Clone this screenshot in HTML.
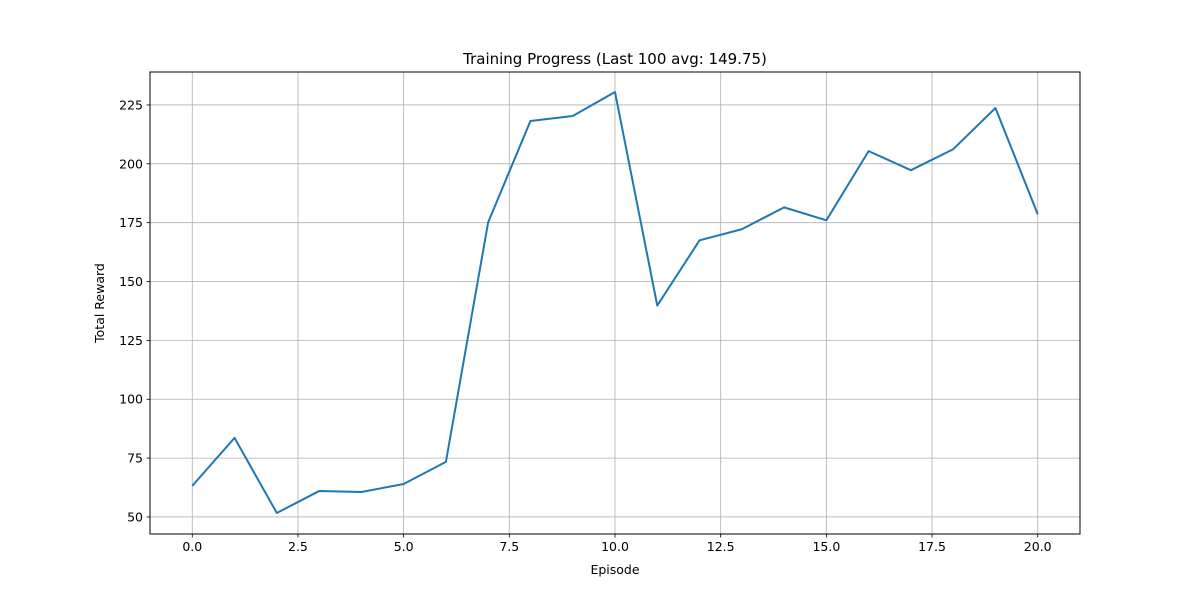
<!DOCTYPE html>
<html><head><meta charset="utf-8"><style>
body{margin:0;background:#fff;}
svg text{font-family:"DejaVu Sans","Liberation Sans",sans-serif;}
</style></head><body>
<svg id="chart" width="1200" height="600" xmlns="http://www.w3.org/2000/svg"></svg>
<script>
const episodes=[0,1,2,3,4,5,6,7,8,9,10,11,12,13,14,15,16,17,18,19,20];
const rewards=[63.2,83.6,51.7,61,60.6,64,73.4,175.2,218.2,220.3,230.5,139.8,167.5,172.2,181.5,176,205.4,197.3,206.2,223.7,178.6];
const xTicks=[0,2.5,5,7.5,10,12.5,15,17.5,20];
const xTickLabels=["0.0","2.5","5.0","7.5","10.0","12.5","15.0","17.5","20.0"];
const yTicks=[50,75,100,125,150,175,200,225];
const yTickLabels=["50","75","100","125","150","175","200","225"];
const L=150,R=1080,T=72,B=534;
const xMin=-1,xMax=21,yMin=42.76,yMax=239.0;
const xs=v=>L+(v-xMin)/(xMax-xMin)*(R-L);
const ys=v=>B-(v-yMin)/(yMax-yMin)*(B-T);
const svg=document.getElementById('chart');
const NS='http://www.w3.org/2000/svg';
function mk(tag,attrs,parent){const e=document.createElementNS(NS,tag);for(const k in attrs)e.setAttribute(k,attrs[k]);(parent||svg).appendChild(e);return e;}
const grid=mk('g',{});


xTicks.forEach((t,i)=>{
 const x=xs(t);
 mk('line',{x1:x,x2:x,y1:T,y2:B,stroke:'#b0b0b0','stroke-width':0.8},grid);
 mk('line',{x1:x,x2:x,y1:B,y2:B+3.5,stroke:'#000','stroke-width':0.8});
 const tx=mk('text',{x:x,y:B+17,'font-size':12.5,'text-anchor':'middle'});
 
 
 tx.textContent=xTickLabels[i];
});
yTicks.forEach((t,i)=>{
 const y=ys(t);
 mk('line',{x1:L,x2:R,y1:y,y2:y,stroke:'#b0b0b0','stroke-width':0.8},grid);
 mk('line',{x1:L-3.5,x2:L,y1:y,y2:y,stroke:'#000','stroke-width':0.8});
 const tx=mk('text',{x:L-7,y:y+4.5,'font-size':12.5,'text-anchor':'end'});
 
 
 tx.textContent=yTickLabels[i];
});
const line=mk('polyline',{points:episodes.map((e,i)=>xs(e)+','+ys(rewards[i])).join(' '),fill:'none',stroke:'#1f77b4','stroke-width':2,'stroke-linejoin':'round'});


const frame=mk('rect',{x:L,y:T,width:R-L,height:B-T,fill:'none',stroke:'#000','stroke-width':1});


const title=mk('text',{x:(L+R)/2,y:T-8,'font-size':15,'text-anchor':'middle'});


title.textContent='Training Progress (Last 100 avg: 149.75)';
const xl=mk('text',{x:(L+R)/2,y:574,'font-size':12.5,'text-anchor':'middle'});


xl.textContent='Episode';
const yl=mk('text',{x:104,y:(T+B)/2,'font-size':12.5,'text-anchor':'middle',transform:'rotate(-90 104 '+((T+B)/2)+')'});


yl.textContent='Total Reward';
</script>
</body></html>
